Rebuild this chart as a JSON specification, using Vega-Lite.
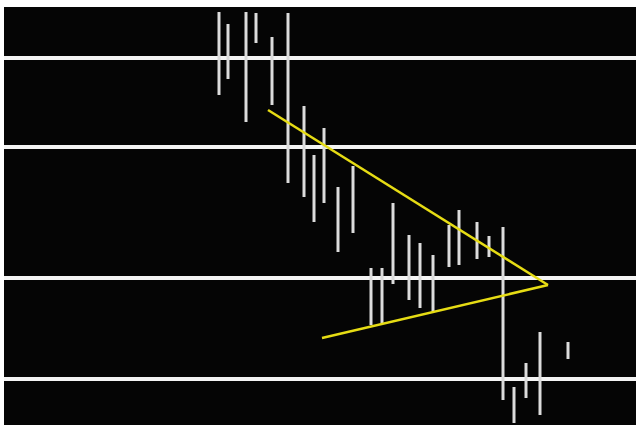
{
  "$schema": "https://vega.github.io/schema/vega-lite/v6.json",
  "width": 632,
  "height": 418,
  "autosize": "none",
  "padding": {"left": 4, "top": 7, "right": 0, "bottom": 0},
  "background": "white",
  "config": {"view": {"fill": "#050505", "stroke": null}},
  "datasets": {
    "bars": [
      {"t": 21.5, "high": 41.3, "low": 33.0},
      {"t": 22.4, "high": 40.1, "low": 34.6},
      {"t": 24.2, "high": 41.3, "low": 30.3},
      {"t": 25.2, "high": 41.2, "low": 38.2},
      {"t": 26.8, "high": 38.8, "low": 32.0},
      {"t": 28.4, "high": 41.2, "low": 24.2},
      {"t": 30.0, "high": 31.9, "low": 22.8},
      {"t": 31.0, "high": 27.0, "low": 20.3},
      {"t": 32.0, "high": 29.7, "low": 22.2},
      {"t": 33.4, "high": 23.8, "low": 17.3},
      {"t": 34.9, "high": 25.9, "low": 19.2},
      {"t": 36.7, "high": 15.7, "low": 10.0},
      {"t": 37.8, "high": 15.7, "low": 10.2},
      {"t": 38.9, "high": 22.2, "low": 14.1},
      {"t": 40.5, "high": 19.0, "low": 12.5},
      {"t": 41.6, "high": 18.2, "low": 11.7},
      {"t": 42.9, "high": 17.0, "low": 11.4},
      {"t": 44.5, "high": 20.0, "low": 15.8},
      {"t": 45.5, "high": 21.5, "low": 16.0},
      {"t": 47.3, "high": 20.3, "low": 16.6},
      {"t": 48.5, "high": 18.9, "low": 16.8},
      {"t": 49.9, "high": 19.8, "low": 2.5},
      {"t": 51.0, "high": 3.8, "low": 0.2},
      {"t": 52.2, "high": 6.2, "low": 2.7},
      {"t": 53.6, "high": 9.3, "low": 1.0},
      {"t": 56.4, "high": 8.3, "low": 6.6}
    ],
    "levels": [
      {"level": 36.7},
      {"level": 27.8},
      {"level": 14.7},
      {"level": 4.6}
    ],
    "trend": [
      {"line": "upper", "t": 26.4, "p": 31.5},
      {"line": "upper", "t": 54.4, "p": 14.0},
      {"line": "lower", "t": 31.8, "p": 8.7},
      {"line": "lower", "t": 54.4, "p": 14.0}
    ]
  },
  "layer": [
    {
      "data": {"name": "levels"},
      "mark": {"type": "rule", "color": "#f4f4f4", "strokeWidth": 4},
      "encoding": {
        "y": {"field": "level", "type": "quantitative", "scale": {"domain": [0, 41.8], "nice": false, "zero": false}, "axis": null}
      }
    },
    {
      "data": {"name": "bars"},
      "mark": {"type": "rule", "color": "#dcdcdc", "strokeWidth": 3},
      "encoding": {
        "x": {"field": "t", "type": "quantitative", "scale": {"domain": [0, 63.2], "nice": false, "zero": false}, "axis": null},
        "y": {"field": "high", "type": "quantitative", "axis": null},
        "y2": {"field": "low"}
      }
    },
    {
      "data": {"name": "trend"},
      "mark": {"type": "line", "color": "#e6dc14", "strokeWidth": 2.5},
      "encoding": {
        "x": {"field": "t", "type": "quantitative", "axis": null},
        "y": {"field": "p", "type": "quantitative", "axis": null},
        "detail": {"field": "line", "type": "nominal"}
      }
    }
  ]
}
